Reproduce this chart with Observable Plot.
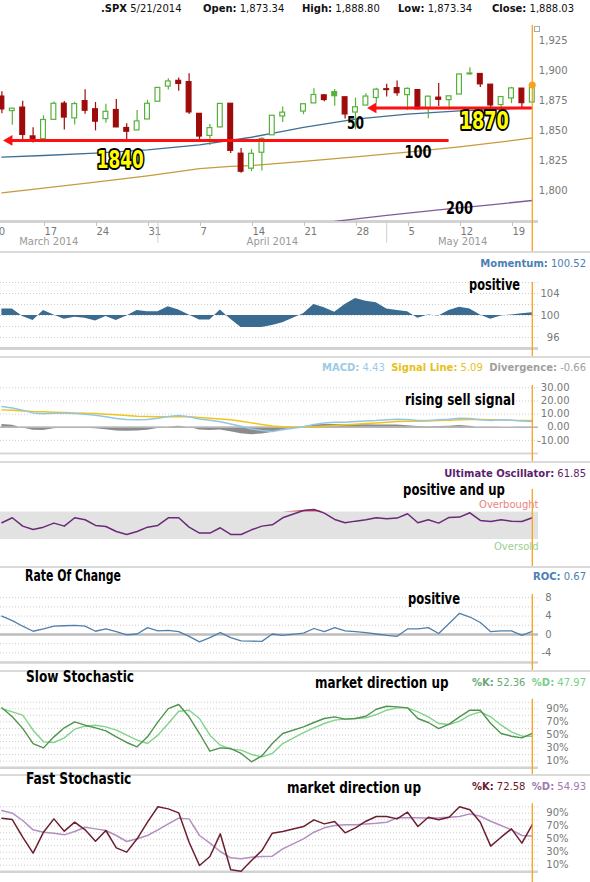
<!DOCTYPE html>
<html><head><meta charset="utf-8">
<script src="https://cdn.jsdelivr.net/npm/d3@7"></script>
<script src="https://cdn.jsdelivr.net/npm/@observablehq/plot@0.6"></script>
<style>
body{margin:0;background:#fff}
#chart{position:relative;width:590px;height:882px;overflow:hidden;background:#fff;font-family:"DejaVu Sans",Verdana,sans-serif}
.abs{position:absolute;white-space:nowrap}
.row{font-size:10px;line-height:12px}
.imp{font-family:"Liberation Sans Narrow","DejaVu Sans Condensed","Arial Narrow",sans-serif;font-weight:bold;color:#000;line-height:1;transform-origin:0 50%;display:inline-block}
</style></head><body><div id="chart"></div>
<script>
// ---------------- DATA ----------------
const dates = ["2014-03-11","2014-03-12","2014-03-13","2014-03-14","2014-03-17","2014-03-18","2014-03-19","2014-03-20","2014-03-21","2014-03-24","2014-03-25","2014-03-26","2014-03-27","2014-03-28","2014-03-31","2014-04-01","2014-04-02","2014-04-03","2014-04-04","2014-04-07","2014-04-08","2014-04-09","2014-04-10","2014-04-11","2014-04-14","2014-04-15","2014-04-16","2014-04-17","2014-04-21","2014-04-22","2014-04-23","2014-04-24","2014-04-25","2014-04-28","2014-04-29","2014-04-30","2014-05-01","2014-05-02","2014-05-05","2014-05-06","2014-05-07","2014-05-08","2014-05-09","2014-05-12","2014-05-13","2014-05-14","2014-05-15","2014-05-16","2014-05-19","2014-05-20","2014-05-21"];
const open  = [1878.3,1866.2,1869.1,1845.1,1842.8,1858.9,1872.4,1860.1,1874.5,1867.7,1859.5,1867.1,1852.1,1850.1,1859.2,1874.0,1886.6,1891.4,1890.3,1863.9,1845.5,1852.6,1872.3,1830.7,1818.2,1831.5,1846.0,1861.7,1865.8,1872.6,1879.3,1882.0,1877.7,1865.0,1870.8,1877.1,1884.4,1885.3,1879.5,1883.7,1868.5,1877.4,1875.3,1880.0,1896.8,1897.1,1888.2,1871.2,1876.7,1884.9,1873.34];
const high  = [1882.4,1868.4,1874.4,1852.4,1862.3,1873.8,1874.1,1873.5,1884.0,1873.3,1871.9,1875.9,1855.6,1866.6,1875.2,1885.8,1893.2,1893.8,1897.3,1864.0,1855.0,1872.4,1872.5,1835.1,1834.2,1844.0,1862.3,1869.6,1871.9,1884.9,1879.8,1884.1,1877.7,1877.0,1880.6,1885.2,1888.6,1891.3,1885.5,1883.7,1878.8,1889.1,1878.6,1897.1,1902.2,1897.1,1888.2,1878.3,1886.0,1884.9,1888.80];
const low   = [1863.9,1854.4,1841.9,1839.6,1842.8,1858.9,1850.4,1854.6,1863.5,1849.7,1856.0,1852.6,1842.1,1850.1,1859.2,1874.0,1883.8,1882.7,1863.3,1841.5,1837.5,1852.4,1830.9,1814.4,1815.8,1816.3,1846.0,1856.7,1863.2,1872.6,1873.9,1870.2,1859.7,1850.6,1870.8,1872.7,1878.0,1878.5,1866.8,1867.7,1859.8,1870.1,1867.0,1880.0,1896.1,1885.8,1862.4,1864.8,1872.4,1868.1,1873.34];
const close = [1867.6,1868.2,1846.3,1841.1,1858.8,1872.3,1860.8,1872.0,1866.5,1857.4,1865.6,1852.6,1849.0,1857.6,1872.3,1885.5,1890.9,1888.8,1865.1,1845.0,1852.0,1872.2,1833.1,1815.7,1830.6,1843.0,1862.3,1864.9,1871.9,1879.6,1875.4,1878.6,1863.4,1869.4,1878.3,1884.0,1883.7,1881.1,1884.7,1867.7,1878.2,1875.6,1878.5,1896.7,1897.5,1888.5,1870.9,1877.9,1885.1,1872.8,1888.03];

// moving averages (sparse readings)
const sma50Dates  = ["2014-03-11","2014-03-17","2014-03-24","2014-03-31","2014-04-07","2014-04-14","2014-04-17","2014-04-21","2014-04-28","2014-05-05","2014-05-12","2014-05-19","2014-05-21"];
const sma50       = [1827.8,1829.2,1831.1,1833.9,1838.0,1844.4,1849.2,1852.6,1859.5,1863.6,1866.4,1868.2,1868.6];
const sma100Dates = ["2014-03-11","2014-03-17","2014-03-24","2014-03-31","2014-04-07","2014-04-10","2014-04-14","2014-04-21","2014-04-28","2014-05-05","2014-05-12","2014-05-19","2014-05-21"];
const sma100      = [1798.0,1802.0,1807.0,1812.2,1818.3,1820.2,1820.8,1824.3,1828.0,1832.0,1836.4,1841.5,1843.9];
const sma200Dates = ["2014-04-24","2014-05-01","2014-05-08","2014-05-15","2014-05-21"];
const sma200      = [1774.3,1779.3,1783.8,1788.1,1791.7];

// support levels (arrows) and labels
const levelValues = [1841.7, 1868.8];
const levelFrom   = ["2014-03-12","2014-04-30"];
const levelTo     = ["2014-05-09","2014-05-21"];
const levelLabels = ["1840","1870"];
const levelLabelDates  = ["2014-03-26","2014-05-14"];
const levelLabelValues = [1825.8, 1858.3];
const maLabels = ["50","100","200"];
const maLabelDates  = ["2014-04-28","2014-05-06","2014-05-12"];
const maLabelValues = [1855.6, 1831.9, 1784.7];

// indicators (one value per trading day)
const momentum = [101.2,101.2,99.8,99.1,100.9,100.1,99.3,99.7,99.5,99.0,99.8,99.1,99.9,100.9,100.7,100.7,101.6,101.0,100.1,99.2,99.2,101.0,99.3,97.8,97.8,97.8,98.2,98.7,100.3,102.0,101.4,100.6,102.0,103.1,102.6,102.3,101.2,100.9,100.7,99.5,100.1,99.9,100.9,101.5,101.2,100.1,99.3,99.9,100.1,100.3,100.52];
const macd     = [15.7,14.7,12.9,10.9,10.2,10.7,10.7,10.4,9.9,9.1,7.9,6.6,5.8,5.6,5.8,6.9,8.1,8.9,7.9,6.3,5.3,4.1,2.5,0.8,-1.3,-2.5,-3.3,-2.0,0.3,2.0,3.3,3.8,3.8,4.3,4.8,5.1,5.6,6.1,5.8,5.1,5.1,5.6,6.1,6.9,6.6,5.6,5.1,5.6,5.3,4.8,4.43];
const signalLine = [13.2,12.9,12.4,11.9,11.7,11.4,11.2,10.9,10.7,10.4,9.9,9.4,8.9,8.4,8.1,7.9,7.9,8.1,7.9,7.4,6.9,6.3,5.6,4.6,3.3,2.0,1.0,0.3,0.0,0.3,0.8,1.3,1.8,2.3,2.8,3.3,3.8,4.3,4.6,4.6,4.8,5.1,5.3,5.6,5.8,5.8,5.6,5.6,5.3,5.2,5.09];
const divergence = [2.0,1.5,-0.5,-2.3,-2.5,-1.2,-0.6,-0.6,-0.8,-1.2,-2.0,-2.8,-3.1,-2.8,-2.3,-1.0,0.2,0.8,0.0,-2.2,-2.5,-2.2,-3.5,-5.0,-5.8,-5.2,-4.0,-2.0,0.3,1.7,2.0,2.0,1.8,1.8,1.8,1.6,1.6,1.6,1.2,0.5,0.3,0.5,0.8,1.3,0.8,-0.2,-0.5,0.0,0.0,-0.4,-0.66];
const ultimate = [54.4,61.7,49.5,44.6,48.0,53.9,49.5,61.7,58.8,50.5,49.0,41.7,37.3,41.7,48.0,50.5,61.7,61.7,48.0,39.3,39.3,47.1,37.3,37.3,44.1,49.5,51.5,61.7,72.4,73.9,68.5,59.3,54.4,56.8,58.8,61.7,60.2,61.2,67.6,54.4,58.8,53.9,62.2,62.7,69.0,57.8,56.3,58.8,56.8,56.3,61.85];
const roc = [4.0,3.0,1.8,0.7,1.2,1.8,1.9,2.0,1.8,0.7,1.2,0.6,-0.1,0.1,1.5,0.8,0.9,0.6,-0.4,-1.6,-0.7,0.4,-0.7,-1.4,-1.45,-1.5,0.1,-0.2,0.3,1.3,0.6,1.5,0.8,0.6,0.4,0.1,-0.2,-0.4,1.2,1.2,1.5,0.2,2.4,4.6,3.8,2.6,0.6,0.8,0.8,-0.2,0.67];
const slowK = [91.4,77.7,60.0,36.9,30.3,47.1,60.9,70.0,64.9,60.9,56.3,47.1,38.5,31.9,47.1,70.0,90.3,96.5,77.7,52.2,25.2,30.3,29.3,21.7,9.0,18.1,36.9,52.2,62.4,69.0,75.1,77.7,74.1,75.1,78.6,89.3,93.9,92.9,91.4,75.1,69.0,59.8,66.5,77.7,87.8,87.8,67.5,52.2,48.1,45.6,52.36];
const slowD = [90.3,85.3,80.2,57.3,39.5,38.5,45.6,58.8,63.4,64.9,62.4,57.3,49.7,42.0,36.9,49.7,67.5,86.3,87.8,75.1,49.7,34.4,28.3,26.8,20.2,16.6,21.7,36.9,53.7,60.9,67.5,72.6,74.1,75.1,76.1,81.2,87.8,91.4,91.4,85.3,77.7,67.5,65.9,71.0,80.2,85.3,77.7,64.9,54.7,48.1,47.97];
const fastK = [82.4,80.3,53.1,28.5,60.8,81.3,62.4,76.2,64.4,47.0,63.4,36.7,30.1,50.6,76.2,100,96.7,90.6,45.4,9.5,23.4,58.3,2.9,0.8,17.2,32.6,59.3,61.8,69.5,79.8,73.6,77.2,59.8,67.5,77.7,84.9,84.9,81.3,91.6,69.5,83.9,79.8,83.9,100,95.2,76.2,39.3,53.1,65.9,43.9,72.58];
const fastD = [94.1,90.0,78.8,64.4,60.8,59.3,56.7,61.8,68.5,65.9,63.4,55.7,46.5,50.6,55.7,64.4,73.6,82.4,81.3,55.7,43.9,31.1,21.3,19.8,22.4,23.4,23.9,35.2,50.6,60.8,67.5,71.1,72.1,72.1,73.6,74.7,76.2,82.9,82.9,82.9,82.4,82.9,83.9,84.9,89.0,85.4,77.7,71.1,64.4,55.7,54.93];

// axis ticks
const mondays = ["2014-03-10","2014-03-17","2014-03-24","2014-03-31","2014-04-07","2014-04-14","2014-04-21","2014-04-28","2014-05-05","2014-05-12","2014-05-19"];
const monthNames  = ["March 2014","April 2014","May 2014"];
const monthStarts = ["2014-03-03","2014-04-01","2014-05-01","2014-06-02"];
const priceTicks = [1800,1825,1850,1875,1900,1925];

// ---------------- HELPERS ----------------
const base = Date.UTC(2014,2,10);
function wd(s){ const days = Math.round((Date.parse(s+"T00:00:00Z")-base)/864e5); const w = Math.floor(days/7); return 5*w + Math.min(days-7*w,5); }
const xDomain = [0.865, 52.596];
const ORANGE = "#f6a21d", GREEN = "#56b13a", RED = "#9e0b0b";
const rows = dates.map((d,k)=>({date:d, i:wd(d), open:open[k], high:high[k], low:low[k], close:close[k], prev:k?close[k-1]:open[k],
  mom:momentum[k], macd:macd[k], sig:signalLine[k], div:divergence[k], uo:ultimate[k], roc:roc[k], sk:slowK[k], sd:slowD[k], fk:fastK[k], fd:fastD[k]}));
const last = rows[rows.length-1];
const chart = document.getElementById("chart");
function addDiv(html, css, cls){ const el=document.createElement("div"); el.className="abs "+(cls||""); el.innerHTML=html; Object.assign(el.style, css); chart.appendChild(el); return el; }
const baseStyle = {background:"transparent", fontFamily:"DejaVu Sans, Verdana, sans-serif", fontSize:"10px", overflow:"visible"};
function place(svg, top){ svg.style.position="absolute"; svg.style.left="0px"; svg.style.top=top+"px"; chart.appendChild(svg); return svg; }
function below(dom, h, mt, mb){ return dom[0] - mb*(dom[1]-dom[0])/(h-mt-mb); }
function orangeRule(dom,h,mt,mb){ return Plot.ruleX([last.i], {x: d=>d, y1: dom[1], y2: below(dom,h,mt,mb), stroke: ORANGE, strokeWidth: 1.3}); }
const dotted = {stroke:"#c8c8c8", strokeOpacity:0.9, strokeDasharray:"1,2"};
const axisRight = (ticks, pad, fmt) => Plot.axisY({ticks, anchor:"right", tickSize:0, tickPadding:pad, textAnchor:"end", tickFormat:fmt, color:"#777", fontSize:10, label:null});

// separators
for (const y of [251, 356, 461, 566, 670, 774]) addDiv("", {left:"0px", top:y+"px", width:"590px", height:"2px", background:"#dadada"});

// ---------------- MAIN PRICE PANEL ----------------
{
  const h=251, mt=25, mb=30, dom=[1774.2,1937.5];
  const dayLabel = new Map(mondays.map(d=>[wd(d), String(+d.slice(8))]));
  const seps = monthStarts.map(wd).filter(v=>v>xDomain[0] && v<xDomain[1]);
  const centers = monthNames.map((m,k)=> (wd(monthStarts[k]) + Math.min(wd(monthStarts[k+1]), xDomain[1]))/2);
  const ma = (ds, vs) => ds.map((d,k)=>({i:wd(d), v:vs[k]}));
  const levels = levelValues.map((v,k)=>({v, from:wd(levelFrom[k]), to:wd(levelTo[k])}));
  const lvLab = levelLabels.map((t,k)=>({t, i:wd(levelLabelDates[k]), v:levelLabelValues[k]}));
  const maLab = maLabels.map((t,k)=>({t, i:wd(maLabelDates[k]), v:maLabelValues[k]}));
  const col = d => d.close >= d.prev ? GREEN : RED;
  const fillc = d => d.close >= d.open ? "#ffffff" : col(d);
  const narrow = "Liberation Sans Narrow, DejaVu Sans Condensed, sans-serif";
  const svg = Plot.plot({
    width:590, height:h, marginTop:mt, marginBottom:mb, marginLeft:0, marginRight:52,
    x:{type:"linear", domain:xDomain}, y:{domain:dom}, color:{type:"identity"},
    style: baseStyle,
    marks:[
      Plot.gridY(priceTicks, {stroke:"#e3e7ea", strokeWidth:1}),
      Plot.ruleY([dom[0]], {stroke:"#d2d2d2", strokeWidth:3}),
      axisRight(priceTicks, 29, d3.format(",")),
      Plot.axisX({ticks:[...dayLabel.keys()], tickFormat:v=>dayLabel.get(v), tickSize:5, tickPadding:1, textAnchor:"start", dx:1, stroke:"#c8c8c8", fill:"#777", fontSize:10, label:null}),
      Plot.axisX({ticks:seps, tickFormat:()=>"", tickSize:22, stroke:"#cfcfcf", label:null}),
      Plot.axisX({ticks:centers, tickFormat:v=>monthNames[centers.indexOf(v)], tickSize:0, tickPadding:16, fill:"#999", fontSize:10, label:null}),
      Plot.line(ma(sma200Dates, sma200), {x:"i", y:"v", stroke:"#7e5c9c", strokeWidth:1.3, clip:true}),
      Plot.line(ma(sma100Dates, sma100), {x:"i", y:"v", stroke:"#c99a3f", strokeWidth:1.3, clip:true}),
      Plot.line(ma(sma50Dates, sma50), {x:"i", y:"v", stroke:"#3e6f96", strokeWidth:1.3, clip:true}),
      Plot.ruleX(rows, {x:"i", y1:"low", y2:"high", stroke:col, strokeWidth:1.2}),
      Plot.rect(rows, {x1:d=>d.i-0.23, x2:d=>d.i+0.23, y1:"open", y2:"close", fill:fillc, stroke:col, strokeWidth:1.2}),
      Plot.ruleY(levels, {y:"v", x1:"from", x2:"to", stroke:"#ff1010", strokeWidth:3}),
      Plot.dot(levels, {x:"from", y:"v", symbol:"triangle", r:4, fill:"#ff1010", rotate:-90, dx:-3}),
      orangeRule(dom,h,mt,mb),
      Plot.dot([last], {x:"i", y:"close", r:3.5, fill:ORANGE}),
      Plot.text(maLab, {x:"i", y:"v", text:"t", fill:"#000", fontSize:17, fontWeight:"bold", fontFamily:narrow}),
      Plot.text(lvLab, {x:"i", y:"v", text:"t", dx:4, fill:"#ffff00", stroke:"#000", strokeWidth:4, paintOrder:"stroke", fontSize:25, fontWeight:"bold", fontFamily:narrow})
    ]
  });
  place(svg, 0);
  // condense the annotation numerals to the reference's narrow lettering
  const labelWidths = {"1840":47, "1870":49, "50":17, "100":27, "200":27};
  svg.querySelectorAll("text").forEach(t => {
    const w = labelWidths[t.textContent];
    if (w) { t.setAttribute("textLength", w); t.setAttribute("lengthAdjust", "spacingAndGlyphs"); }
  });
}

// ---------------- MOMENTUM ----------------
{
  const h=105, mt=31, mb=8, dom=[94,106];
  place(Plot.plot({width:590, height:h, marginTop:mt, marginBottom:mb, marginLeft:0, marginRight:52,
    x:{type:"linear", domain:xDomain, axis:null}, y:{domain:dom}, style:baseStyle,
    marks:[
      Plot.gridY([96,98,100,102,104,106], dotted),
      Plot.areaY(rows, {x:"i", y1:100, y2:"mom", fill:"#3a6b91"}),
      Plot.ruleY([dom[0]], {stroke:"#d2d2d2", strokeWidth:3}),
      axisRight([96,100,104], 21),
      orangeRule(dom,h,mt,mb)
    ]}), 251);
}

// ---------------- MACD ----------------
{
  const h=105, mt=29, mb=8, dom=[-20,31.75];
  place(Plot.plot({width:590, height:h, marginTop:mt, marginBottom:mb, marginLeft:0, marginRight:52,
    x:{type:"linear", domain:xDomain, axis:null}, y:{domain:dom}, style:baseStyle,
    marks:[
      Plot.gridY([-10,10,20,30], dotted),
      Plot.areaY(rows, {x:"i", y1:0, y2:"div", fill:"#8c8c8c"}),
      Plot.ruleY([0], {stroke:"#b5b5b5", strokeWidth:1.5}),
      Plot.line(rows, {x:"i", y:"sig", stroke:"#f0c419", strokeWidth:1.5}),
      Plot.line(rows, {x:"i", y:"macd", stroke:"#93c6e6", strokeWidth:1.5}),
      Plot.ruleY([dom[0]], {stroke:"#d8d8d8", strokeWidth:2}),
      axisRight([30,20,10,0,-10], 31, d=>d.toFixed(2)),
      orangeRule(dom,h,mt,mb)
    ]}), 356);
}

// ---------------- ULTIMATE OSCILLATOR ----------------
{
  const h=105, mt=28, mb=1, dom=[-8,103];
  const band = [{lo:30, hi:70}];
  place(Plot.plot({width:590, height:h, marginTop:mt, marginBottom:mb, marginLeft:0, marginRight:52,
    x:{type:"linear", domain:xDomain, axis:null}, y:{domain:dom, axis:null}, style:baseStyle,
    marks:[
      Plot.rect(band, {x1:()=>xDomain[0], x2:()=>xDomain[1], y1:"lo", y2:"hi", fill:"#e2e2e2"}),
      Plot.gridY([40,60], {stroke:"#f0f0f0", strokeDasharray:"1,2"}),
      Plot.gridY([50], {stroke:"#f3f3f3", strokeWidth:1.5}),
      Plot.areaY(rows, {x:"i", y1:70, y2:d=>Math.max(d.uo,70), fill:"#d24a4a"}),
      Plot.line(rows, {x:"i", y:"uo", stroke:"#6b2a78", strokeWidth:1.5}),
      Plot.text(["Overbought"], {y:()=>70, frameAnchor:"right", textAnchor:"end", dy:-7, fill:"#e8857f", fontSize:10}),
      Plot.text(["Oversold"], {y:()=>30, frameAnchor:"right", textAnchor:"end", dy:7, fill:"#9ccf8f", fontSize:10}),
      orangeRule(dom,h,mt,mb)
    ]}), 461);
}

// ---------------- RATE OF CHANGE ----------------
{
  const h=104, mt=28, mb=8, dom=[-6.1,8.7];
  place(Plot.plot({width:590, height:h, marginTop:mt, marginBottom:mb, marginLeft:0, marginRight:52,
    x:{type:"linear", domain:xDomain, axis:null}, y:{domain:dom}, style:baseStyle,
    marks:[
      Plot.gridY([-6,-4,-2,2,4,6,8], dotted),
      Plot.ruleY([0], {stroke:"#bdbdbd", strokeWidth:2.5}),
      Plot.ruleY([dom[0]], {stroke:"#d2d2d2", strokeWidth:2.5}),
      Plot.line(rows, {x:"i", y:"roc", stroke:"#4f7fab", strokeWidth:1.3}),
      axisRight([8,4,0,-4], 13, d=>d<0?"-"+Math.abs(d):String(d)),
      orangeRule(dom,h,mt,mb)
    ]}), 566);
}

// ---------------- SLOW STOCHASTIC ----------------
const pctTicks = [90,70,50,30,10];
const grid10 = [10,20,30,40,50,60,70,80,90,100];
{
  const h=104, mt=28.7, mb=6.8, dom=[0,104.6];
  place(Plot.plot({width:590, height:h, marginTop:mt, marginBottom:mb, marginLeft:0, marginRight:52,
    x:{type:"linear", domain:xDomain, axis:null}, y:{domain:dom}, style:baseStyle,
    marks:[
      Plot.gridY(grid10, dotted),
      Plot.ruleY([0], {stroke:"#d2d2d2", strokeWidth:2.5}),
      Plot.line(rows, {x:"i", y:"sd", stroke:"#7fd48a", strokeWidth:1.4}),
      Plot.line(rows, {x:"i", y:"sk", stroke:"#4e944e", strokeWidth:1.4}),
      axisRight(pctTicks, 30, d=>d+"%"),
      orangeRule(dom,h,mt,mb)
    ]}), 670);
}

// ---------------- FAST STOCHASTIC ----------------
{
  const h=108, mt=29.3, mb=10.8, dom=[0,104.5];
  place(Plot.plot({width:590, height:h, marginTop:mt, marginBottom:mb, marginLeft:0, marginRight:52,
    x:{type:"linear", domain:xDomain, axis:null}, y:{domain:dom}, style:baseStyle,
    marks:[
      Plot.gridY(grid10, dotted),
      Plot.ruleY([0], {stroke:"#d2d2d2", strokeWidth:2.5}),
      Plot.line(rows, {x:"i", y:"fd", stroke:"#b48fc2", strokeWidth:1.5}),
      Plot.line(rows, {x:"i", y:"fk", stroke:"#6b1f2f", strokeWidth:1.5}),
      axisRight(pctTicks, 30, d=>d+"%"),
      orangeRule(dom,h,mt,mb)
    ]}), 774);
}

// ---------------- TEXT ----------------
const fmt2 = d3.format(",.2f");
const B = (t,c) => `<b style="color:${c}">${t}</b>`;
const N = (t,c) => `<span style="color:${c}">${t}</span>`;
addDiv(B(".SPX","#111")+" "+N("5/21/2014","#111"), {left:"101px", top:"3px"}, "row");
addDiv(B("Open:","#111")+" "+N(fmt2(last.open),"#111"), {left:"203px", top:"3px"}, "row");
addDiv(B("High:","#111")+" "+N(fmt2(last.high),"#111"), {left:"302px", top:"3px"}, "row");
addDiv(B("Low:","#111")+" "+N(fmt2(last.low),"#111"), {left:"398px", top:"3px"}, "row");
addDiv(B("Close:","#111")+" "+N(fmt2(last.close),"#111"), {left:"492px", top:"3px"}, "row");
addDiv("", {left:"534px", top:"26px", width:"4px", height:"4px", border:"1px solid #aaa"});

const r2 = v => v.toFixed(2);
addDiv(B("Momentum:","#4a80b4")+" "+N(r2(last.mom),"#4a80b4"), {right:"4px", top:"258px"}, "row");
addDiv(B("MACD:","#9ccbe6")+" "+N(r2(last.macd),"#9ccbe6")+"&nbsp;&nbsp;"+B("Signal Line:","#e8c020")+" "+N(r2(last.sig),"#e8c020")+"&nbsp;&nbsp;"+B("Divergence:","#a0a0a0")+" "+N(r2(last.div),"#a0a0a0"), {right:"4px", top:"362px"}, "row");
addDiv(B("Ultimate Oscillator:","#5c1f6e")+" "+N(r2(last.uo),"#5c1f6e"), {right:"4px", top:"468px"}, "row");
addDiv(B("ROC:","#4a80b4")+" "+N(r2(last.roc),"#4a80b4"), {right:"4px", top:"571px"}, "row");
addDiv(B("%K:","#6aa878")+" "+N(r2(last.sk),"#6aa878")+"&nbsp;&nbsp;"+B("%D:","#78d088")+" "+N(r2(last.sd),"#78d088"), {right:"4px", top:"677px"}, "row");
addDiv(B("%K:","#6b1a2a")+" "+N(r2(last.fk),"#6b1a2a")+"&nbsp;&nbsp;"+B("%D:","#a07ab0")+" "+N(r2(last.fd),"#a07ab0"), {right:"4px", top:"781px"}, "row");

// condensed headline annotations, fitted to width
function headline(text, left, width, cy, size){
  const el = addDiv(text, {left:left+"px", top:(cy - 0.59*size)+"px", fontSize:size+"px"}, "imp");
  const w = el.getBoundingClientRect().width;
  if (w > 0) el.style.transform = `scaleX(${width/w})`;
}
headline("positive", 469, 51, 286.7, 16);
headline("rising sell signal", 405, 110, 401.7, 16);
headline("positive and up", 403, 102, 491.7, 16);
headline("Rate Of Change", 24.5, 96, 577.5, 15);
headline("positive", 407.5, 52, 600, 16);
headline("Slow Stochastic", 25.6, 108, 679.3, 15);
headline("market direction up", 314.5, 133.5, 684.7, 16);
headline("Fast Stochastic", 25.6, 105.4, 781.3, 15);
headline("market direction up", 287, 134, 789.7, 16);
</script></body></html>
